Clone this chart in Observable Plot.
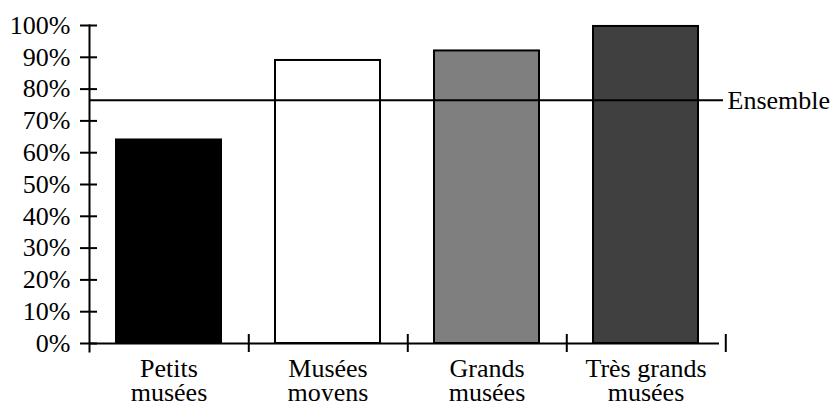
<!DOCTYPE html>
<html><head><meta charset="utf-8">
<script src="https://cdn.jsdelivr.net/npm/d3@7"></script>
<script src="https://cdn.jsdelivr.net/npm/@observablehq/plot@0.6"></script>
<style>body{margin:0;background:#fff}</style>
</head><body><div id="chart"></div>
<script>
const categories = ["Petits\nmusées", "Musées\nmoyens", "Grands\nmusées", "Très grands\nmusées"];
const values = [0.64, 0.89, 0.92, 0.997];
const fills = ["#000000", "#ffffff", "#7f7f7f", "#404040"];
const ensemble = 0.765;
const ensembleLabel = "Ensemble";
const yTicks = [0, 0.1, 0.2, 0.3, 0.4, 0.5, 0.6, 0.7, 0.8, 0.9, 1];

const data = categories.map((c, i) => ({cat: c, value: values[i], fill: fills[i]}));

const W = 832, H = 401;
const xRange = [115, 699];
const padIn = 0.34;
const step = (xRange[1] - xRange[0]) / (categories.length - padIn);
const FONT = 26;

const chart = Plot.plot({
  width: W, height: H,
  marginLeft: 89, marginRight: 113, marginTop: 25, marginBottom: 58,
  style: {fontFamily: "'Liberation Serif', 'Times New Roman', serif", fontSize: FONT + "px", color: "black", background: "white"},
  x: {domain: categories, range: xRange, paddingInner: padIn, paddingOuter: 0, axis: null},
  y: {domain: [0, 1], axis: null},
  color: {type: "identity"},
  marks: [
    Plot.barY(data, {x: "cat", y: "value", fill: "fill", stroke: "black", strokeWidth: 2}),
    Plot.ruleY([0], {stroke: "black", strokeWidth: 2}),
    Plot.frame({anchor: "left", stroke: "black", strokeWidth: 2, insetBottom: -8}),
    Plot.ruleY([ensemble], {stroke: "black", strokeWidth: 2, insetRight: -4}),
    Plot.text([ensemble], {y: d => d, frameAnchor: "right", textAnchor: "start", dx: 8, text: () => ensembleLabel, fontSize: FONT, fill: "black"}),
    Plot.axisY({ticks: yTicks, tickFormat: d3.format(".0%"), tickSize: 17, dx: 8, tickPadding: 10, strokeWidth: 2, fontSize: FONT, label: null, stroke: "black", fill: "black"}),
    Plot.axisX({ticks: categories, tickSize: 18, dy: -9, dx: step / 2, tickFormat: () => "", label: null, strokeWidth: 2, stroke: "black"}),
    Plot.text(categories, {x: d => d, frameAnchor: "bottom", lineAnchor: "top", dy: 17, lineHeight: 0.92, fontSize: FONT, fill: "black"})
  ]
});
document.getElementById("chart").appendChild(chart);
</script>
</body></html>
